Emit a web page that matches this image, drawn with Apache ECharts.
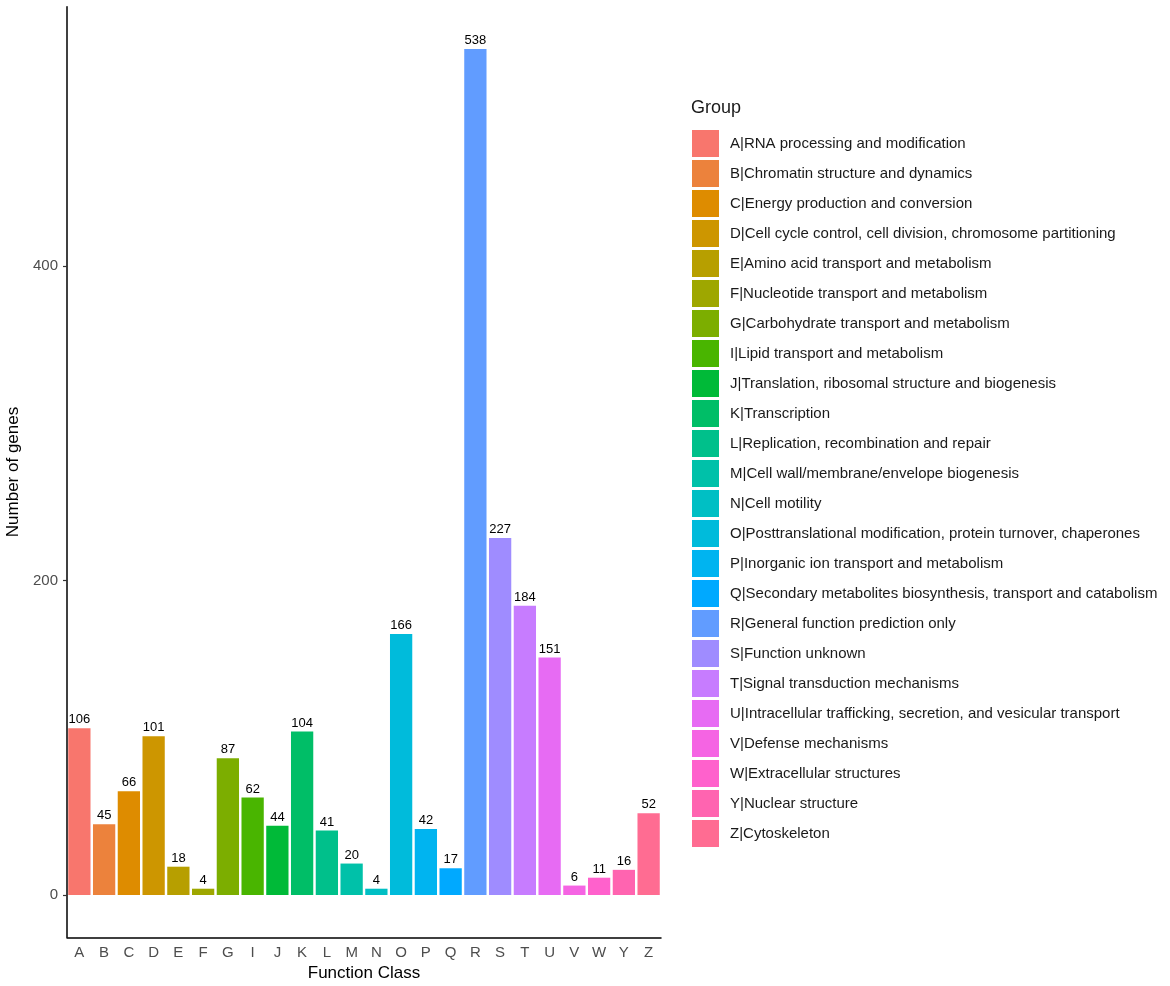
<!DOCTYPE html>
<html>
<head>
<meta charset="utf-8">
<script src="https://cdn.jsdelivr.net/npm/echarts@6/dist/echarts.min.js"></script>
<style>
    html, body {margin: 0; padding: 0; background: #fff;}
    #chart {width: 1170px; height: 986px;}
</style>
</head>
<body>
<div id="chart"></div>
<script>
// COG function classes
let classes = ['A', 'B', 'C', 'D', 'E', 'F', 'G', 'I', 'J', 'K', 'L', 'M',
    'N', 'O', 'P', 'Q', 'R', 'S', 'T', 'U', 'V', 'W', 'Y', 'Z'];
let counts = [106, 45, 66, 101, 18, 4, 87, 62, 44, 104, 41, 20,
    4, 166, 42, 17, 538, 227, 184, 151, 6, 11, 16, 52];
let groups = [
    'A|RNA processing and modification',
    'B|Chromatin structure and dynamics',
    'C|Energy production and conversion',
    'D|Cell cycle control, cell division, chromosome partitioning',
    'E|Amino acid transport and metabolism',
    'F|Nucleotide transport and metabolism',
    'G|Carbohydrate transport and metabolism',
    'I|Lipid transport and metabolism',
    'J|Translation, ribosomal structure and biogenesis',
    'K|Transcription',
    'L|Replication, recombination and repair',
    'M|Cell wall/membrane/envelope biogenesis',
    'N|Cell motility',
    'O|Posttranslational modification, protein turnover, chaperones',
    'P|Inorganic ion transport and metabolism',
    'Q|Secondary metabolites biosynthesis, transport and catabolism',
    'R|General function prediction only',
    'S|Function unknown',
    'T|Signal transduction mechanisms',
    'U|Intracellular trafficking, secretion, and vesicular transport',
    'V|Defense mechanisms',
    'W|Extracellular structures',
    'Y|Nuclear structure',
    'Z|Cytoskeleton'
];
let yTicks = [0, 200, 400];
let palette = ['#F8766D', '#EC823C', '#DE8C00', '#CD9600', '#B79F00', '#9EA700',
    '#7CAE00', '#49B500', '#00BA38', '#00BE67', '#00C08B', '#00C1A9',
    '#00BFC4', '#00BBDB', '#00B4F0', '#00A9FF', '#619CFF', '#9F8CFF',
    '#C77CFF', '#E76BF3', '#F564E3', '#FF61CC', '#FF64B0', '#FF6C92'];

let font = 'Liberation Sans, Arial, Helvetica, sans-serif';

let series = groups.map((name, i) => {
    return {
        name: name,
        type: 'bar',
        stack: 'all',
        barWidth: '90%',
        data: classes.map((c, j) => j === i ? counts[i] : '-'),
        itemStyle: {color: palette[i]},
        label: {
            show: true,
            position: 'top',
            distance: 2,
            color: '#000',
            fontSize: 13,
            fontFamily: font
        }
    };
});

let myChart = echarts.init(document.getElementById('chart'));
let option = {
    backgroundColor: '#fff',
    animation: false,
    color: palette,
    title: {
        text: 'Group',
        left: 691,
        top: 99,
        padding: 0,
        textStyle: {fontSize: 18, fontWeight: 'normal', color: '#1a1a1a', fontFamily: font}
    },
    legend: {
        orient: 'vertical',
        left: 692,
        top: 130,
        padding: 0,
        itemWidth: 27,
        itemHeight: 27,
        itemGap: 3,
        icon: 'rect',
        data: groups,
        selectedMode: false,
        textStyle: {fontSize: 15, color: '#1a1a1a', fontFamily: font, padding: [0, 0, 0, 6]}
    },
    grid: {
        left: 67,
        right: 509,
        top: 6.7,
        bottom: 48.7,
        containLabel: false,
        outerBoundsMode: 'none'
    },
    xAxis: {
        type: 'category',
        data: classes,
        name: 'Function Class',
        nameLocation: 'middle',
        nameGap: 28,
        nameTextStyle: {fontSize: 17, color: '#000', fontFamily: font},
        axisLine: {onZero: false, lineStyle: {color: '#000', width: 1.5}},
        axisTick: {alignWithLabel: true, length: 4, lineStyle: {color: '#333', width: 1.2}},
        axisLabel: {fontSize: 15, color: '#4D4D4D', margin: 8, fontFamily: font, interval: 0}
    },
    yAxis: {
        type: 'value',
        min: -26.9,
        max: 564.9,
        name: 'Number of genes',
        nameLocation: 'middle',
        nameRotate: 90,
        nameGap: 44,
        nameTextStyle: {fontSize: 17, color: '#000', fontFamily: font},
        splitLine: {show: false},
        axisLine: {show: true, onZero: false, lineStyle: {color: '#000', width: 1.5}},
        axisTick: {show: true, length: 4, customValues: yTicks, lineStyle: {color: '#333', width: 1.2}},
        axisLabel: {fontSize: 15, color: '#4D4D4D', margin: 9, fontFamily: font, customValues: yTicks}
    },
    series: series
};
myChart.setOption(option);
</script>
</body>
</html>
